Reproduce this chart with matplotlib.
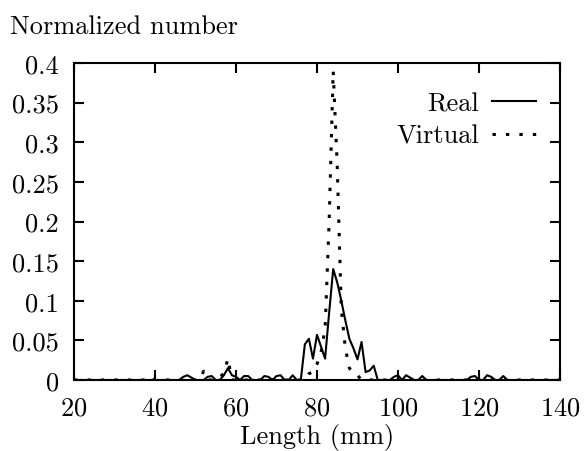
import numpy as np
import matplotlib
matplotlib.use("Agg")
import matplotlib.pyplot as plt

plt.rcParams['font.family'] = ['cmr10', 'DejaVu Serif']
plt.rcParams['axes.formatter.use_mathtext'] = True

# ----- data (1 mm bins) -----
length_mm = list(range(20, 141))

real_nonzero = {
    47: 0.004, 48: 0.006, 49: 0.003,
    53: 0.004, 54: 0.005,
    57: 0.006, 58: 0.015, 59: 0.006, 60: 0.004,
    62: 0.005, 63: 0.005,
    67: 0.005, 68: 0.004, 70: 0.005, 71: 0.006,
    74: 0.006,
    77: 0.045, 78: 0.052, 79: 0.027, 80: 0.057, 81: 0.042, 82: 0.027,
    83: 0.085, 84: 0.140, 85: 0.123, 86: 0.100, 87: 0.075, 88: 0.052,
    89: 0.040, 90: 0.026, 91: 0.048, 92: 0.010, 93: 0.012, 94: 0.018,
    99: 0.004, 100: 0.006, 102: 0.006, 103: 0.003, 106: 0.005,
    118: 0.004, 119: 0.005, 122: 0.006, 123: 0.004, 126: 0.005,
}

virtual_nonzero = {
    39: 0.004, 52: 0.011, 56: 0.004, 57: 0.008, 58: 0.027,
    78: 0.008, 79: 0.010, 80: 0.020, 81: 0.035, 82: 0.065, 83: 0.200,
    84: 0.390, 85: 0.270, 86: 0.090, 87: 0.040, 88: 0.015, 89: 0.008,
    90: 0.006,
}

real = [real_nonzero.get(x, 0.0) for x in length_mm]
virtual = [virtual_nonzero.get(x, 0.0) for x in length_mm]

x_ticks = [20, 40, 60, 80, 100, 120, 140]
y_ticks = [0, 0.05, 0.1, 0.15, 0.2, 0.25, 0.3, 0.35, 0.4]
y_tick_labels = ['0', '0.05', '0.1', '0.15', '0.2', '0.25', '0.3', '0.35', '0.4']

FS = 19

# ----- plot -----
fig = plt.figure(figsize=(5.85, 4.52), dpi=100)
ax = fig.add_axes([74 / 585, 1 - 381 / 452, (560 - 74) / 585, (381 - 64) / 452])

ax.plot(length_mm, real, color='black', lw=1.5, label='Real')
ax.plot(length_mm, virtual, color='black', lw=2.2, dash_capstyle='butt',
        linestyle=(0, (1.1, 3.3)), label='Virtual')

ax.set_xlim(20, 140)
ax.set_ylim(0, 0.4)
ax.set_xticks(x_ticks)
ax.set_yticks(y_ticks)
ax.set_yticklabels(y_tick_labels)
ax.tick_params(direction='in', length=7, width=1.5, top=True, right=True,
               labelsize=FS)
ax.tick_params(axis='x', pad=11)
ax.tick_params(axis='y', pad=11)
for s in ax.spines.values():
    s.set_linewidth(1.5)

ax.set_xlabel("Length (mm)", fontsize=FS, labelpad=3)
fig.text(10 / 585, 1 - 27 / 452, "Normalized number", fontsize=FS, va='center')

ax.legend(loc='upper right', frameon=False, markerfirst=False, fontsize=FS,
          handlelength=1.65, handletextpad=0.5, borderaxespad=0, borderpad=0,
          labelspacing=0.32,
          bbox_to_anchor=((536 - 74) / 486, (381 - 93) / 317))

fig.savefig("out.png", dpi=100)
